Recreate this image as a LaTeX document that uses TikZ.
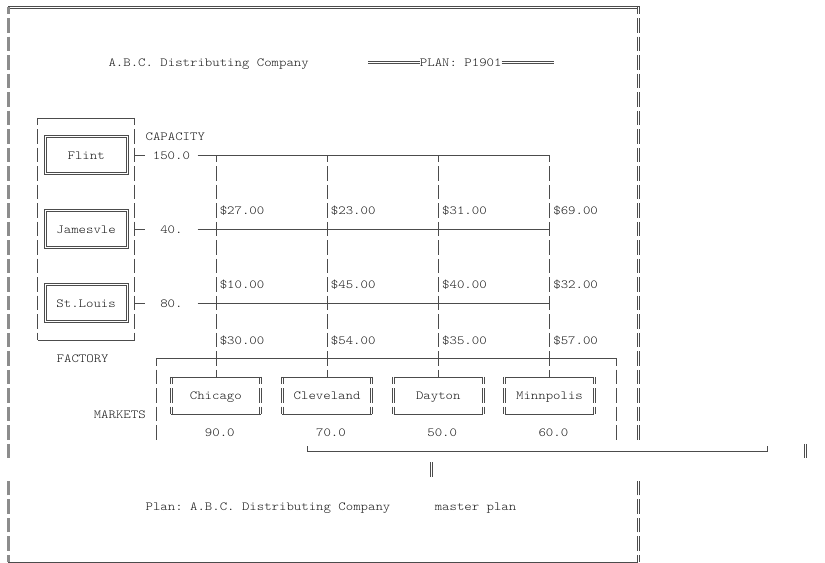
\documentclass[tikz,border=0pt]{standalone}
\usepackage{fontspec}
\setmonofont{lmmonolt10-regular.otf}[FakeStretch=1.143]
\newcommand{\mono}{\ttfamily\fontsize{12.36pt}{15pt}\selectfont}

\tikzset{
  txt/.style={anchor=west, inner sep=0pt, text height=8pt, text depth=0pt, font=\mono, text=black!90},
  capnum/.style={txt, anchor=center, minimum width=51.89pt},
  wire/.style={draw=black!70, line width=.6pt},
  vbar/.style={wire, dash pattern=on 14.5pt off 4pt, dash phase=7.25pt},
  lbar/.style={draw=black!45, line width=2.6pt, dash pattern=on 14.5pt off 4pt, dash phase=7.25pt},
  fbox/.style={inner sep=0pt, minimum width=81.54pt, minimum height=37pt,
    text height=8pt, text depth=0pt, font=\mono, text=black!90},
  mbox/.style={fbox, minimum width=88.96pt},
}

\begin{document}
\begin{tikzpicture}[x=7.413pt, y=-18.5pt]
    \useasboundingbox (-1.12,-0.378) rectangle (110.17,30.05);

    % frame
    \foreach \s in {-1pt,1pt} {
        \draw[vbar] ([xshift=\s]85,0) -- ([xshift=\s]85,23.5);
        \draw[vbar] ([xshift=\s]85,30) -- ([xshift=\s]85,25.5);
    }
    \draw[wire] ([yshift=1pt]0,0) -- ([xshift=1pt,yshift=1pt]85,0) -- ([xshift=1pt]85,.39);
    \draw[wire] ([yshift=-1pt]0,0) -- ([xshift=-1pt,yshift=-1pt]85,0) -- ([xshift=-1pt]85,.39);
    \draw[wire] (0,30) -- (85,30);
    \draw[lbar] (0,0) -- (0,24.5);
    \draw[lbar] (0,30) -- (0,25.5);

    \node[txt] (title) at (13.5,3) {A.B.C. Distributing Company};
    \node[txt] (plan) at (55.5,3) {PLAN: P1901};
    \foreach \s in {-1pt,1pt} {
        \draw[wire] ([yshift=\s]plan.west) -- ++(-7,0);
        \draw[wire] ([yshift=\s]plan.east) -- ++(7,0);
    }

    % factories
    \node[inner sep=0pt, minimum width=96.37pt, minimum height=222pt] (factory) at (10.5,12) {};
    \draw[wire] (factory.north west) -- (factory.north east);
    \draw[wire] (factory.south west) -- (factory.south east);
    \draw[vbar] (factory.north west) -- (factory.south west);
    \draw[vbar] (factory.north east) -- (factory.south east);

    \node[fbox] (flint) at (10.5,8) {Flint};
    \node[fbox] (james) at (10.5,12) {Jamesvle};
    \node[fbox] (stl) at (10.5,16) {St.Louis};
    \foreach \f in {flint,james,stl} {
        \draw[wire] ([shift={(-1pt,1pt)}]\f.north west) rectangle ([shift={(1pt,-1pt)}]\f.south east);
        \draw[wire] ([shift={(1pt,-1pt)}]\f.north west) rectangle ([shift={(-1pt,1pt)}]\f.south east);
    }
    \node[txt] (factorylbl) at (6.5,19) {FACTORY};

    \node[txt] (caplbl) at (18.5,7) {CAPACITY};
    \node[capnum] (cap1) at (22,8) {150.0};
    \node[capnum] (cap2) at (22,12) {40.};
    \node[capnum] (cap3) at (22,16) {80.};

    % markets
    \node[inner sep=0pt, minimum width=459.6pt, minimum height=83.25pt] (markets) at (51,21.25) {};
    \draw[wire] (markets.north west) -- (markets.north east);
    \draw[vbar] (markets.north west) -- (markets.south west);
    \draw[vbar] (markets.north east) -- (markets.south east);
    \node[txt] (marketlbl) at (11.5,22) {MARKETS};

    \node[mbox] (chi) at (28,21) {Chicago};
    \node[mbox] (cle) at (43,21) {Cleveland};
    \node[mbox] (day) at (58,21) {Dayton};
    \node[mbox] (min) at (73,21) {Minnpolis};
    \foreach \m in {chi,cle,day,min} {
        \draw[wire] (\m.north west) -- (\m.north east);
        \draw[wire] (\m.south west) -- (\m.south east);
        \foreach \s in {-1pt,1pt} {
            \draw[vbar] ([xshift=\s]\m.north west) -- ([xshift=\s]\m.south west);
            \draw[vbar] ([xshift=\s]\m.north east) -- ([xshift=\s]\m.south east);
        }
    }

    \node[txt] (dem1) at (26.5,23) {90.0};
    \node[txt] (dem2) at (41.5,23) {70.0};
    \node[txt] (dem3) at (56.5,23) {50.0};
    \node[txt] (dem4) at (71.5,23) {60.0};

    % routes
    \draw[wire] (factory.east |- cap1) -- (cap1.west);
    \draw[wire] (factory.east |- cap2) -- (cap2.west);
    \draw[wire] (factory.east |- cap3) -- (cap3.west);
    \draw[wire] (cap1.east) -- (min |- cap1);
    \draw[wire] (cap2.east) -- (min |- cap2);
    \draw[wire] (cap3.east) -- (min |- cap3);

    \draw[vbar] (chi |- cap1) -- (chi.north);
    \draw[vbar] (cle |- cap1) -- (cle.north);
    \draw[vbar] (day |- cap1) -- (day.north);
    \draw[vbar] (min |- cap1) -- (min.north);

    \node[txt] (c11) at (28.5,11) {\$27.00};
    \node[txt] (c12) at (43.5,11) {\$23.00};
    \node[txt] (c13) at (58.5,11) {\$31.00};
    \node[txt] (c14) at (73.5,11) {\$69.00};
    \node[txt] (c21) at (28.5,15) {\$10.00};
    \node[txt] (c22) at (43.5,15) {\$45.00};
    \node[txt] (c23) at (58.5,15) {\$40.00};
    \node[txt] (c24) at (73.5,15) {\$32.00};
    \node[txt] (c31) at (28.5,18) {\$30.00};
    \node[txt] (c32) at (43.5,18) {\$54.00};
    \node[txt] (c33) at (58.5,18) {\$35.00};
    \node[txt] (c34) at (73.5,18) {\$57.00};

    % stray bracket row
    \coordinate (bl) at (40.33,24);
    \coordinate (br) at (102.4,24);
    \draw[wire] ([yshift=5pt]bl) -- (bl) -- (br) -- ([yshift=5pt]br);
    \foreach \s in {-1pt,1pt} {
        \draw[wire] ([xshift=\s]107.57,23.61) -- ([xshift=\s]107.57,24.39);
        \draw[wire] ([xshift=\s]57,24.61) -- ([xshift=\s]57,25.39);
    }

    \node[txt] (footer) at (18.5,27) {Plan: A.B.C. Distributing Company};
    \node[txt] (master) at (57.5,27) {master plan};
\end{tikzpicture}
\end{document}
